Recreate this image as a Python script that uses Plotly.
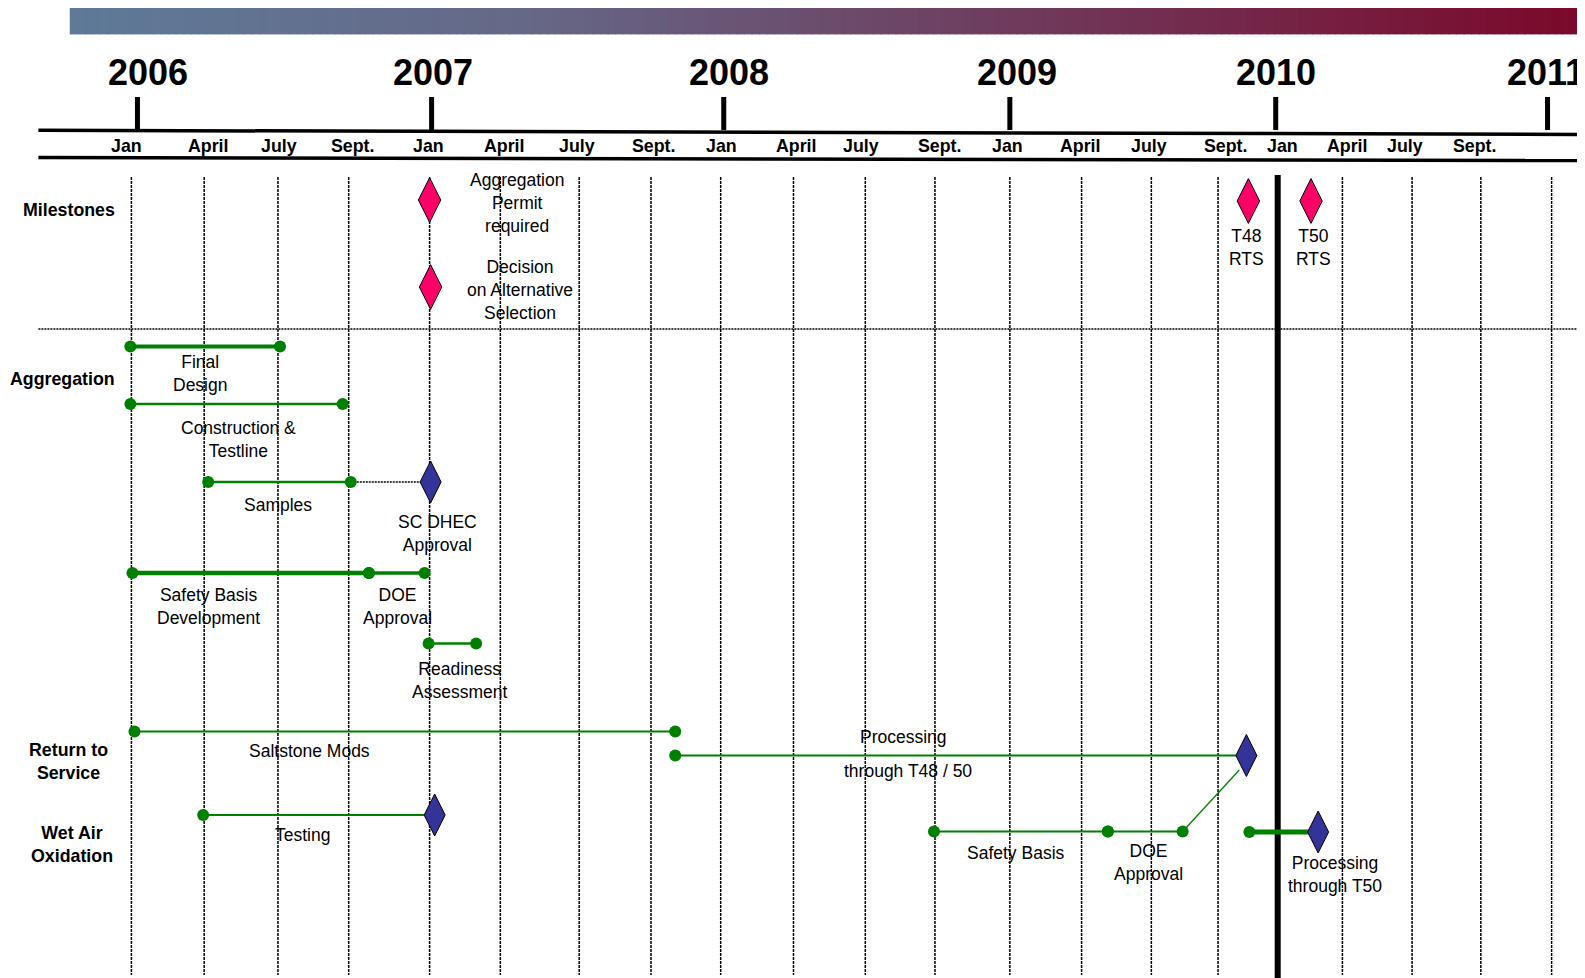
import plotly.graph_objects as go

PAGE_W, PAGE_H = 1585, 978
OFF = 8  # default page body margin of the browser
W, H = PAGE_W - OFF, PAGE_H - OFF

# ---------------- data ----------------
# x unit: timeline position in quarters from Jan 2006, as drawn on the chart
gridline_q = [-0.192, 0.832, 1.871, 2.867, 4.006, 5.002, 6.112, 7.123, 8.104, 9.129,
              10.140, 11.121, 12.175, 13.185, 14.167, 15.106, 15.946, 16.857, 17.838,
              18.806, 19.802]
today_index = 16  # Jan 2010 status line
month_labels = ["Jan", "April", "July", "Sept."] * 5
month_q = [-0.263, 0.889, 1.886, 2.924, 3.992, 5.059, 6.084, 7.151, 8.119, 9.172,
           10.082, 11.179, 12.146, 13.171, 14.138, 15.205, 16.018, 16.927, 17.739, 18.720]
year_labels = ["2006", "2007", "2008", "2009", "2010", "2011"]
year_label_q = [0.04, 4.06, 8.22, 12.28, 15.92, 19.72]
year_tick_q = [-0.107, 4.034, 8.147, 12.175, 15.918, 19.745]

section_names = ["Milestones", "Aggregation", "Return to<br>Service", "Wet Air<br>Oxidation"]
section_q = [-1.075, -1.16, -1.075, -1.03]
section_lane = [210, 379, 761, 844]

# activity bars
task_names = ["Final Design", "Construction & Testline", "Samples",
              "Safety Basis Development", "DOE Approval", "Readiness Assessment",
              "Saltstone Mods", "Processing through T48 / 50", "Testing",
              "Safety Basis", "DOE Approval", "Processing through T50"]
task_start = [-0.207, -0.207, 0.889, -0.178, 3.152, 3.992, -0.149, 7.464, 0.818, 11.107, 13.555, 15.547]
task_end = [1.900, 2.782, 2.896, 3.152, 3.935, 4.661, 7.464, 15.505, 4.077, 13.555, 14.608, 16.515]
task_lane = [346.5, 404, 482, 573, 573, 643.5, 731.5, 755.5, 815, 831.5, 831.5, 832]
task_end_kind = ["dot", "dot", "dot", "dot", "dot", "dot", "dot", "diamond",
                 "diamond", "dot", "dot", "diamond"]

# key milestones (red)
ms_names = ["Aggregation<br>Permit<br>required", "Decision<br>on Alternative<br>Selection",
            "T48<br>RTS", "T50<br>RTS"]
ms_q = [4.006, 4.020, 15.533, 16.415]
ms_lane = [200, 287, 201, 201]
ms_label_q = [5.230, 5.272, 15.505, 16.444]
ms_label_lane = [203, 290, 247.5, 247.5]

# approval milestone not tied to a bar end
appr_q = [4.020]
appr_lane = [482]

# links between activities
link_from_q = [2.896, 14.608]
link_from_lane = [482, 831.5]
link_to_q = [4.020, 15.405]
link_to_lane = [482, 770]
link_kind = ["dotted", "green"]

# bar labels
label_text = ["Final<br>Design", "Construction &<br>Testline", "Samples", "SC DHEC<br>Approval",
              "Safety Basis<br>Development", "DOE<br>Approval", "Readiness<br>Assessment",
              "Saltstone Mods", "Processing", "through T48 / 50", "Testing", "Safety Basis",
              "DOE<br>Approval", "Processing<br>through T50"]
label_q = [0.776, 1.316, 1.871, 4.120, 0.889, 3.550, 4.433, 2.312, 10.680, 10.737,
           2.213, 12.260, 14.124, 16.757]
label_lane = [373, 439.5, 505, 533, 606, 606, 680, 750.6, 736.5, 771, 834.5, 852.7, 862, 874]

# ---------------- styles ----------------
GREEN = "#008000"
BLUE = "#333399"
RED = "#FF0066"
FONT = "Liberation Sans, Arial, sans-serif"
task_width = [4, 2.5, 2.5, 4.5, 3.5, 2.5, 1.8, 2, 1.8, 2, 2, 5]

# linear scale: page x = 145.06 + 71.03 * q
X0, DX = 145.06, 71.03
XMIN = (OFF - X0) / DX
XMAX = (PAGE_W - X0) / DX


def px(p):
    """page pixel -> paper fraction (x)"""
    return (p - OFF) / W


fig = go.Figure()

shapes = []
# top gradient banner
stops = [(0.0, (94, 122, 152)), (0.3, (102, 104, 135)), (0.6, (110, 62, 96)), (1.0, (123, 8, 42))]


def grad(t):
    for (t0, c0), (t1, c1) in zip(stops[:-1], stops[1:]):
        if t <= t1:
            f = (t - t0) / (t1 - t0)
            return "rgb(%d,%d,%d)" % tuple(round(a + (b - a) * f) for a, b in zip(c0, c1))
    return "rgb(%d,%d,%d)" % stops[-1][1]


n = 200
gx0, gx1 = px(69.75), 1.0
for i in range(n):
    a = gx0 + (gx1 - gx0) * i / n
    b = gx0 + (gx1 - gx0) * (i + 1) / n + 0.0005
    shapes.append(dict(type="rect", xref="paper", yref="y", x0=a, x1=b, y0=5, y1=34.4,
                       fillcolor=grad((i + 0.5) / n), line=dict(width=0), layer="above"))

# timeline rails
shapes.append(dict(type="line", xref="paper", yref="y", x0=px(38.4), x1=1, y0=130.3, y1=134.4,
                   line=dict(color="black", width=3.5)))
shapes.append(dict(type="line", xref="paper", yref="y", x0=px(38.4), x1=1, y0=157.6, y1=160.6,
                   line=dict(color="black", width=3.5)))
# year ticks
for q in year_tick_q:
    shapes.append(dict(type="line", xref="x", yref="y", x0=q, x1=q, y0=97, y1=130,
                       line=dict(color="black", width=5)))
# milestone separator
shapes.append(dict(type="line", xref="paper", yref="y", x0=px(38.4), x1=1, y0=329, y1=329,
                   line=dict(color="black", width=1.3, dash="2px,1px"), layer="below"))
# quarter gridlines
for i, q in enumerate(gridline_q):
    if i == today_index:
        shapes.append(dict(type="line", xref="x", yref="y", x0=q, x1=q, y0=175, y1=PAGE_H,
                           line=dict(color="black", width=6), layer="below"))
    else:
        shapes.append(dict(type="line", xref="x", yref="y", x0=q, x1=q, y0=177, y1=975,
                           line=dict(color="black", width=1.5, dash="3px,1px"), layer="below"))

# links
for fq, fl, tq, tl, k in zip(link_from_q, link_from_lane, link_to_q, link_to_lane, link_kind):
    if k == "dotted":
        ln = dict(color="black", width=1.5, dash="2px,1px")
    else:
        ln = dict(color=GREEN, width=1.3)
    fig.add_trace(go.Scatter(x=[fq, tq], y=[fl, tl], mode="lines", line=ln,
                             hoverinfo="skip", showlegend=False))

# bars
for name, s, e, lane, w in zip(task_names, task_start, task_end, task_lane, task_width):
    fig.add_trace(go.Scatter(x=[s, e], y=[lane, lane], mode="lines", name=name,
                             line=dict(color=GREEN, width=w), showlegend=False))

# dots
dot_x, dot_y = [], []
for s, e, lane, k in zip(task_start, task_end, task_lane, task_end_kind):
    dot_x.append(s)
    dot_y.append(lane)
    if k == "dot":
        dot_x.append(e)
        dot_y.append(lane)
fig.add_trace(go.Scatter(x=dot_x, y=dot_y, mode="markers", showlegend=False,
                         marker=dict(symbol="circle", size=12, color=GREEN)))

# approval diamonds (blue)
bx = list(appr_q) + [e for e, k in zip(task_end, task_end_kind) if k == "diamond"]
by = list(appr_lane) + [l for l, k in zip(task_lane, task_end_kind) if k == "diamond"]
fig.add_trace(go.Scatter(x=bx, y=by, mode="markers", showlegend=False,
                         marker=dict(symbol="diamond-tall", size=30, color=BLUE,
                                     line=dict(color="black", width=1))))

# key milestones (red)
fig.add_trace(go.Scatter(x=ms_q, y=ms_lane, mode="markers", showlegend=False,
                         marker=dict(symbol="diamond-tall", size=32, color=RED,
                                     line=dict(color="black", width=1))))

ann = []
for t, q in zip(year_labels, year_label_q):
    ann.append(dict(x=q, y=72, text="<b>%s</b>" % t, font=dict(size=36, family=FONT, color="black")))
for t, q in zip(month_labels, month_q):
    ann.append(dict(x=q, y=146, text="<b>%s</b>" % t, font=dict(size=17.8, family=FONT, color="black")))
for t, q, l in zip(section_names, section_q, section_lane):
    ann.append(dict(x=q, y=l, text="<b>%s</b>" % t, font=dict(size=17.8, family=FONT, color="black")))
for t, q, l in zip(ms_names, ms_label_q, ms_label_lane):
    ann.append(dict(x=q, y=l, text=t, font=dict(size=17.5, family=FONT, color="black")))
for t, q, l in zip(label_text, label_q, label_lane):
    ann.append(dict(x=q, y=l, text=t, font=dict(size=17.5, family=FONT, color="black")))
for a in ann:
    a.update(xref="x", yref="y", showarrow=False, xanchor="center", yanchor="middle",
             align="center", borderpad=0)

fig.update_layout(
    width=W, height=H, autosize=False,
    margin=dict(l=0, r=0, t=0, b=0, pad=0),
    paper_bgcolor="white", plot_bgcolor="white",
    xaxis=dict(range=[XMIN, XMAX], visible=False, fixedrange=True),
    yaxis=dict(range=[PAGE_H, OFF], visible=False, fixedrange=True),
    shapes=shapes, annotations=ann, showlegend=False,
)

fig.write_html("out.html")
